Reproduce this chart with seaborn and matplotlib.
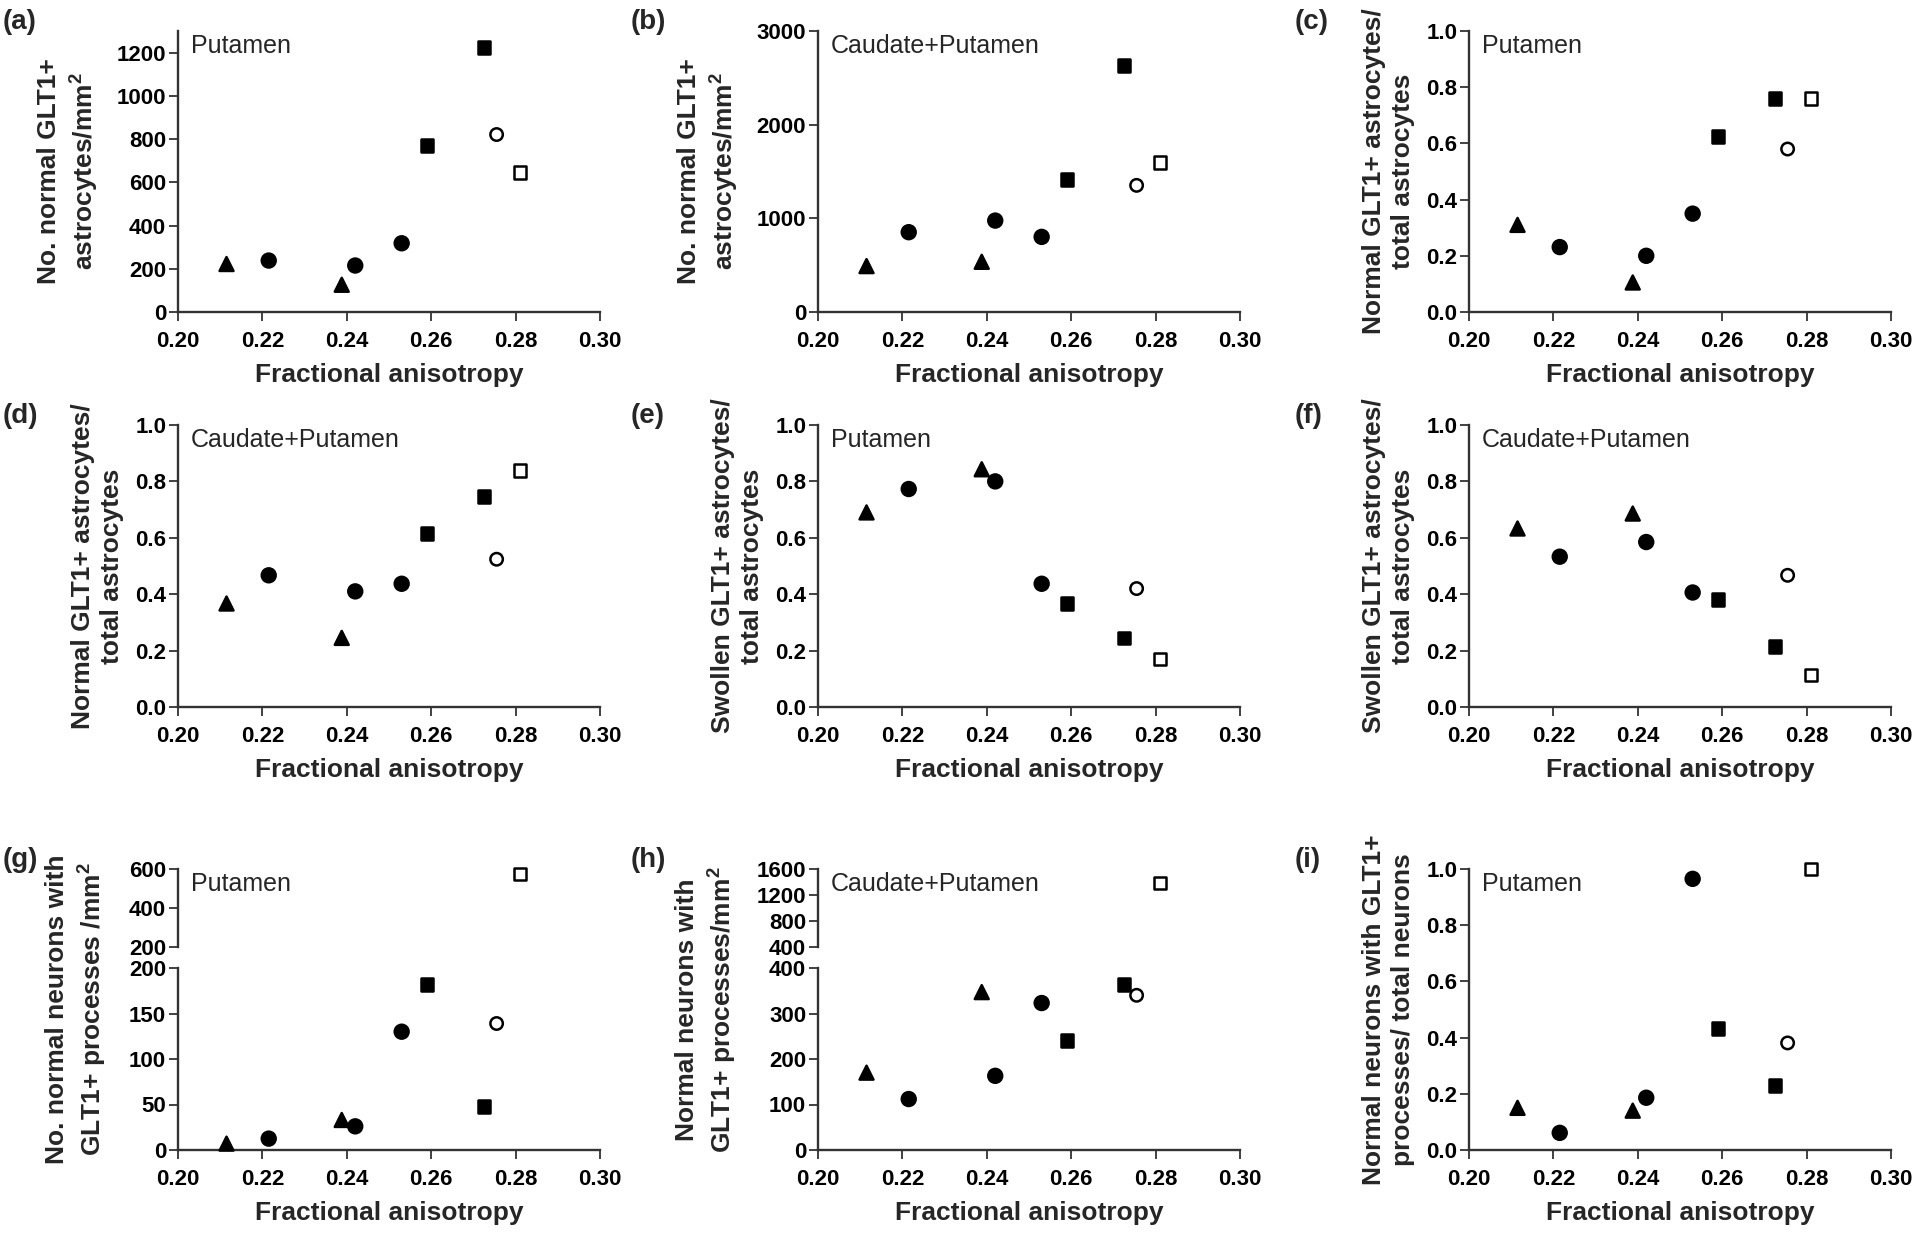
import numpy as np
import pandas as pd
import matplotlib
matplotlib.use("Agg")
import matplotlib.pyplot as plt
import seaborn as sns

sns.set_theme(style="ticks")
plt.rcParams["font.family"] = ["Liberation Sans", "DejaVu Sans"]
plt.rcParams["mathtext.fontset"] = "custom"
plt.rcParams["mathtext.rm"] = "Liberation Sans"
plt.rcParams["mathtext.bf"] = "Liberation Sans:bold"

# fractional anisotropy of each case (same cases in every panel)
fa = [0.2115, 0.2215, 0.2388, 0.2420, 0.2530, 0.2590, 0.2725, 0.2755, 0.2810]
kind = ["triangle", "circle", "triangle", "circle", "circle",
        "square", "square", "open circle", "open square"]

vals_a = [222, 238, 126, 215, 318, 772, 1223, 821, 645]
vals_b = [490, 852, 536, 976, 802, 1413, 2634, 1352, 1598]
vals_c = [0.31, 0.231, 0.105, 0.20, 0.35, 0.624, 0.76, 0.58, 0.76]
vals_d = [0.367, 0.467, 0.245, 0.41, 0.437, 0.616, 0.747, 0.524, 0.838]
vals_e = [0.69, 0.773, 0.843, 0.80, 0.437, 0.367, 0.245, 0.42, 0.17]
vals_f = [0.633, 0.533, 0.686, 0.585, 0.406, 0.38, 0.214, 0.467, 0.114]
vals_g = [7, 12.5, 33, 26, 130, 182, 47.5, 139, 576]
vals_h = [170, 112, 347, 163, 323, 241, 364, 340, 1388]
vals_i = [0.15, 0.061, 0.14, 0.186, 0.965, 0.431, 0.23, 0.381, 1.0]

xticks = [0.20, 0.22, 0.24, 0.26, 0.28, 0.30]
frac_ticks = [0.0, 0.2, 0.4, 0.6, 0.8, 1.0]

shape = {"triangle": "^", "circle": "o", "square": "s",
         "open circle": "o", "open square": "s"}
face = {"triangle": "black", "circle": "black", "square": "black",
        "open circle": "white", "open square": "white"}
area = {"triangle": 100, "circle": 100, "square": 85,
        "open circle": 80, "open square": 80}

INK = "#333333"
TICK_FS = 16
LABEL_FS = 19
SQ = r"$^\mathbf{2}$"

# letter, region, ylabel, values, lower y ticks, lower y top, upper ticks (broken axis) or None
panels = [
    ("(a)", "Putamen", "No. normal GLT1+\nastrocytes/mm" + SQ, vals_a,
     [0, 200, 400, 600, 800, 1000, 1200], 1300, None),
    ("(b)", "Caudate+Putamen", "No. normal GLT1+\nastrocytes/mm" + SQ, vals_b,
     [0, 1000, 2000, 3000], 3000, None),
    ("(c)", "Putamen", "Normal GLT1+ astrocytes/\ntotal astrocytes", vals_c,
     frac_ticks, 1.0, None),
    ("(d)", "Caudate+Putamen", "Normal GLT1+ astrocytes/\ntotal astrocytes", vals_d,
     frac_ticks, 1.0, None),
    ("(e)", "Putamen", "Swollen GLT1+ astrocytes/\ntotal astrocytes", vals_e,
     frac_ticks, 1.0, None),
    ("(f)", "Caudate+Putamen", "Swollen GLT1+ astrocytes/\ntotal astrocytes", vals_f,
     frac_ticks, 1.0, None),
    ("(g)", "Putamen", "No. normal neurons with\nGLT1+ processes /mm" + SQ, vals_g,
     [0, 50, 100, 150, 200], 200, [200, 400, 600]),
    ("(h)", "Caudate+Putamen", "Normal neurons with\nGLT1+ processes/mm" + SQ, vals_h,
     [0, 100, 200, 300, 400], 400, [400, 800, 1200, 1600]),
    ("(i)", "Putamen", "Normal neurons with GLT1+\nprocesses/ total neurons", vals_i,
     frac_ticks, 1.0, None),
]

W, H = 1920, 1234
col_x = [178, 818, 1469]
letter_x = [3, 631, 1295]
rows = [(31, 312), (425, 707), (869, 1150)]
AX_W = 422

fig = plt.figure(figsize=(19.2, 12.34), dpi=100)


def style_axis(ax, show_x=True):
    sns.despine(ax=ax)
    for side in ["left", "bottom"]:
        ax.spines[side].set_color(INK)
        ax.spines[side].set_linewidth(1.7)
    ax.tick_params(axis="both", direction="out", length=6.5, width=1.3,
                   color=INK, labelsize=TICK_FS, labelcolor="black")
    ax.tick_params(axis="x", pad=7)
    ax.tick_params(axis="y", pad=2)
    for lab in ax.get_yticklabels() + ax.get_xticklabels():
        lab.set_fontweight("bold")
    if not show_x:
        ax.spines["bottom"].set_visible(False)
        ax.tick_params(axis="x", bottom=False, labelbottom=False)


def scatter(ax, xs, ys, ks):
    df = pd.DataFrame({"fa": xs, "value": ys, "kind": ks})
    sns.scatterplot(data=df, x="fa", y="value", hue="kind", style="kind",
                    size="kind", palette=face, markers=shape, sizes=area,
                    edgecolor="black", linewidth=1.8, legend=False, ax=ax,
                    clip_on=False, zorder=3)
    ax.set_xlabel("")
    ax.set_ylabel("")


def fmt(t):
    return f"{t:.1f}" if isinstance(t, float) else str(t)


for idx, (letter, region, ylabel, vals, yt, ytop, upper) in enumerate(panels):
    r, c = divmod(idx, 3)
    top, bot = rows[r]
    x0 = col_x[c]

    if upper is None:
        ax = fig.add_axes([x0 / W, 1 - bot / H, AX_W / W, (bot - top) / H])
        scatter(ax, fa, vals, kind)
        ax.set_ylim(0, ytop)
    else:
        up_bot = top + 78
        lo_top = top + 99
        ax_up = fig.add_axes([x0 / W, 1 - up_bot / H, AX_W / W, (up_bot - top) / H])
        ax = fig.add_axes([x0 / W, 1 - bot / H, AX_W / W, (bot - lo_top) / H])
        lo = [i for i, v in enumerate(vals) if v < ytop]
        hi = [i for i, v in enumerate(vals) if v >= ytop]
        scatter(ax, [fa[i] for i in lo], [vals[i] for i in lo], [kind[i] for i in lo])
        scatter(ax_up, [fa[i] for i in hi], [vals[i] for i in hi], [kind[i] for i in hi])
        ax.set_ylim(0, ytop)
        ax_up.set_ylim(upper[0], upper[-1])
        ax_up.set_xlim(0.20, 0.30)
        ax_up.set_yticks(upper)
        ax_up.set_yticklabels([fmt(t) for t in upper])
        style_axis(ax_up, show_x=False)

    ax.set_xlim(0.20, 0.30)
    ax.set_xticks(xticks)
    ax.set_xticklabels([f"{t:.2f}" for t in xticks])
    ax.set_yticks(yt)
    ax.set_yticklabels([fmt(t) for t in yt])
    style_axis(ax)
    ax.set_xlabel("Fractional anisotropy", fontsize=LABEL_FS, fontweight="bold",
                  labelpad=8)

    if upper is None:
        pad = 12 if letter in ("(a)", "(b)") else 8
        ax.set_ylabel(ylabel, fontsize=LABEL_FS, fontweight="bold", labelpad=pad,
                      linespacing=1.25)
    else:
        # centre the label on the whole broken axis
        centre = (bot - (top + bot) / 2) / (bot - (top + 99))
        ax.set_ylabel(ylabel, fontsize=LABEL_FS, fontweight="bold",
                      linespacing=1.25)
        off = -0.165 if letter == "(g)" else -0.19
        ax.yaxis.set_label_coords(off, centre)

    fig.text((x0 + 13) / W, 1 - (top + 3) / H, region, fontsize=18,
             ha="left", va="top")
    fig.text(letter_x[c] / W, 1 - (top - 22) / H, letter, fontsize=20,
             fontweight="bold", ha="left", va="top")

fig.savefig("out.png", dpi=100)
